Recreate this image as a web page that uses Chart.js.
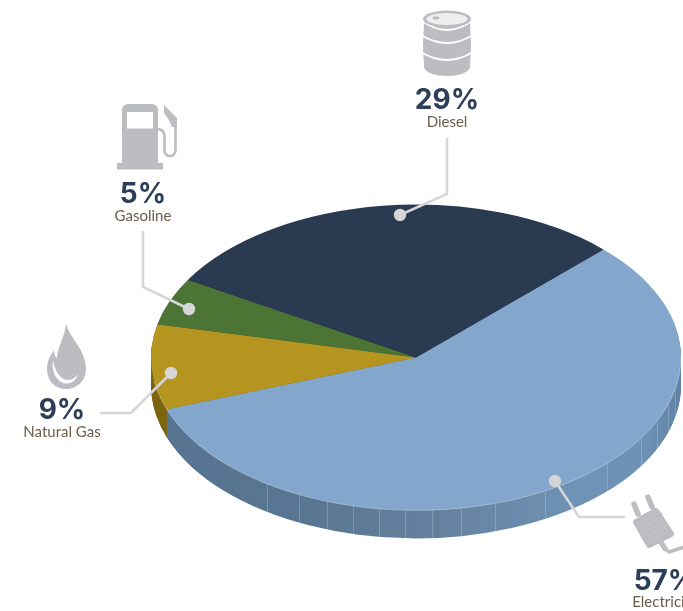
<!DOCTYPE html>
<html>
<head>
<meta charset="utf-8">
<style>html,body{margin:0;padding:0;background:#fff;overflow:hidden}canvas{display:block}</style>
<script src="https://cdn.jsdelivr.net/npm/chart.js@4/dist/chart.umd.js"></script>
</head>
<body>
<canvas id="c" width="683" height="611"></canvas>
<script>
const categories = ['Electricity', 'Natural Gas', 'Gasoline', 'Diesel'];
const shares = [57, 9, 5, 29];
const topColors = ['#82a6cc', '#b69420', '#4c7434', '#2a3a50'];
const wallColors = [null, '#7d6510', '#3a5a28', '#1f2c3e'];

const TILT = 0.577, DEPTH = 28, RADIUS = 265;
const facetX = [267, 299, 327, 353, 379, 405, 432, 461, 495, 545, 607, 641, 657, 668, 675];

const callouts = [
  {i: 3, pct: [447, 108.5], name: [447, 122], path: [[447,138],[447,194],[400,215]]},
  {i: 2, pct: [143, 203],   name: [143, 216], path: [[143,231],[143,287],[189,309]]},
  {i: 1, pct: [62, 419],    name: [62, 432],  path: [[100,413],[131,413],[171,373]]},
  {i: 0, pct: [665, 590],   name: [665, 602], path: [[625,517],[579,517],[555,481]]}
];

const GREY = '#bcbdc0';
function drawBarrel(c) {
  c.fillStyle = GREY;
  c.beginPath();
  c.moveTo(424, 20);
  c.bezierCurveTo(424, 30, 423, 38, 423, 46);
  c.bezierCurveTo(423, 54, 424, 60, 424, 67);
  c.bezierCurveTo(426, 79, 468, 79, 470, 67);
  c.bezierCurveTo(470, 60, 471, 54, 471, 46);
  c.bezierCurveTo(471, 38, 470, 30, 470, 20);
  c.closePath(); c.fill();
  c.strokeStyle = '#fff'; c.lineWidth = 1.8;
  [[20, 30], [35, 43], [52, 60]].forEach(function (r) {
    c.beginPath();
    c.moveTo(421, r[0]);
    c.quadraticCurveTo(447, r[1] + (r[1] - r[0]), 473, r[0]);
    c.stroke();
  });
  c.fillStyle = GREY;
  c.beginPath(); c.ellipse(447, 19, 24, 8.5, 0, 0, Math.PI * 2); c.fill();
  c.fillStyle = '#eeeeef';
  c.beginPath(); c.ellipse(447, 19, 20.5, 6, 0, 0, Math.PI * 2); c.fill();
  c.fillStyle = GREY;
  c.beginPath(); c.ellipse(436, 18, 3.5, 1.8, 0, 0, Math.PI * 2); c.fill();
}
function drawPump(c) {
  c.fillStyle = GREY;
  c.beginPath(); c.roundRect(122, 104, 36, 62, [6, 6, 0, 0]); c.fill();
  c.fillRect(117, 163, 46, 6.5);
  c.fillStyle = '#fff';
  c.fillRect(127, 112, 26, 16.5);
  c.strokeStyle = GREY; c.lineWidth = 2.6; c.lineCap = 'butt';
  c.beginPath();
  c.moveTo(157, 129);
  c.quadraticCurveTo(164.5, 129, 164.5, 137);
  c.lineTo(164.5, 150);
  c.bezierCurveTo(164.5, 158, 175.5, 158, 175.5, 150);
  c.lineTo(175.5, 122);
  c.stroke();
  c.fillStyle = GREY;
  c.beginPath();
  c.moveTo(164, 105); c.lineTo(177, 118); c.lineTo(177, 127);
  c.lineTo(172, 127); c.lineTo(169, 120); c.lineTo(164, 113);
  c.closePath(); c.fill();
}
function drawFlame(c) {
  c.fillStyle = GREY;
  c.beginPath();
  c.moveTo(66, 323);
  c.bezierCurveTo(68, 336, 86, 349, 86, 369);
  c.bezierCurveTo(86, 381, 77, 389, 66, 389);
  c.bezierCurveTo(55, 389, 47, 381, 47, 369);
  c.bezierCurveTo(47, 358, 52, 354, 54, 350);
  c.bezierCurveTo(54, 354, 55, 357, 57, 358);
  c.bezierCurveTo(57, 347, 65, 338, 66, 323);
  c.closePath(); c.fill();
  c.fillStyle = '#fff';
  c.beginPath();
  c.moveTo(53, 360);
  c.bezierCurveTo(51, 373, 58, 383, 66, 383.5);
  c.bezierCurveTo(72, 384, 76, 380, 78, 374);
  c.bezierCurveTo(75, 378, 72, 380, 68, 380);
  c.bezierCurveTo(64, 380, 62, 378, 60, 376);
  c.bezierCurveTo(56, 372, 54, 366, 53, 360);
  c.closePath(); c.fill();
}
function drawPlug(c) {
  c.strokeStyle = GREY; c.lineCap = 'round'; c.lineWidth = 5.5;
  c.beginPath(); c.moveTo(634, 504); c.lineTo(638, 514);
  c.moveTo(648, 497); c.lineTo(652, 507); c.stroke();
  c.lineCap = 'butt';
  c.fillStyle = GREY; c.lineJoin = 'round'; c.lineWidth = 6;
  c.beginPath();
  c.moveTo(636, 522); c.lineTo(656, 511); c.lineTo(671, 534); c.lineTo(649, 545);
  c.closePath(); c.fill(); c.stroke();
  c.lineWidth = 5;
  c.beginPath(); c.moveTo(660, 541); c.lineTo(666, 550); c.stroke();
  c.lineWidth = 3.6;
  c.beginPath(); c.moveTo(662, 546); c.lineTo(669, 552); c.lineTo(684, 547); c.stroke();
  c.strokeStyle = '#c8c8ca'; c.lineWidth = 0.8;
  c.beginPath();
  c.moveTo(645, 520); c.lineTo(661, 512);
  c.moveTo(661, 512); c.quadraticCurveTo(664, 515, 661, 517);
  c.lineTo(644, 526); c.quadraticCurveTo(642, 529, 646, 531);
  c.lineTo(664, 521); c.quadraticCurveTo(668, 524, 665, 527);
  c.lineTo(648, 536); c.quadraticCurveTo(648, 540, 652, 540);
  c.lineTo(667, 532);
  c.stroke();
  c.lineJoin = 'miter';
}

const wallPlugin = {
  id: 'wall',
  beforeDatasetDraw(chart) {
    const c = chart.ctx;
    const arcs = chart.getDatasetMeta(0).data;
    const ox = arcs[0].x, oy = arcs[0].y;
    const grad = c.createLinearGradient(ox - RADIUS, 0, ox + RADIUS, 0);
    grad.addColorStop(0, '#567491');
    grad.addColorStop(0.3, '#587692');
    grad.addColorStop(0.55, '#65819f');
    grad.addColorStop(0.8, '#6f93b5');
    grad.addColorStop(0.93, '#6e92b3');
    grad.addColorStop(1, '#5d82a4');
    const order = [1, 2, 3, 0];
    for (let d = DEPTH; d >= 1; d--) {
      order.forEach(function (i) {
        const a = arcs[i], saved = a.options;
        a.options = Object.assign({}, saved, {backgroundColor: i === 0 ? grad : wallColors[i]});
        c.save();
        c.translate(0, d);
        c.translate(ox, oy); c.scale(1, TILT); c.translate(-ox, -oy);
        a.draw(c);
        c.restore();
        a.options = saved;
      });
    }
    c.save();
    c.strokeStyle = 'rgba(255,255,255,0.2)';
    c.lineWidth = 1;
    facetX.forEach(function (x) {
      const dx = x - ox;
      const y = oy + TILT * Math.sqrt(RADIUS * RADIUS - dx * dx);
      const s = Math.round(x) + 0.5;
      c.beginPath(); c.moveTo(s, y); c.lineTo(s, y + DEPTH); c.stroke();
    });
    c.restore();
    c.save();
    c.translate(ox, oy); c.scale(1, TILT); c.translate(-ox, -oy);
  },
  afterDatasetDraw(chart) {
    const c = chart.ctx;
    c.restore();
    const a = chart.getDatasetMeta(0).data[0];
    c.save();
    c.strokeStyle = 'rgba(255,255,255,0.4)';
    c.lineWidth = 0.8;
    c.beginPath();
    c.ellipse(a.x, a.y, RADIUS, RADIUS * TILT, 0, 0, Math.PI * 0.95);
    c.stroke();
    c.restore();
  },
  afterDraw(chart) {
    const c = chart.ctx;
    c.save();
    drawBarrel(c); drawPump(c); drawFlame(c); drawPlug(c);
    c.strokeStyle = '#d6d6d8'; c.lineWidth = 2.6; c.lineJoin = 'miter'; c.lineCap = 'butt';
    callouts.forEach(function (o) {
      c.beginPath();
      o.path.forEach(function (p, k) { k ? c.lineTo(p[0], p[1]) : c.moveTo(p[0], p[1]); });
      c.stroke();
      c.fillStyle = '#d6d6d8';
      c.beginPath(); c.arc(o.path[2][0], o.path[2][1], 6.2, 0, Math.PI * 2); c.fill();
    });
    c.textAlign = 'center';
    callouts.forEach(function (o) {
      c.textBaseline = 'alphabetic';
      c.fillStyle = '#2d3f58';
      c.font = '700 28px Inter';
      c.fillText(shares[o.i] + '%', o.pct[0], o.pct[1]);
      c.fillStyle = '#6d5c4a';
      c.font = '15px Lato';
      c.textBaseline = 'middle';
      c.fillText(categories[o.i], o.name[0], o.name[1]);
    });
    c.restore();
  }
};

new Chart(document.getElementById('c'), {
  type: 'pie',
  data: {
    labels: categories,
    datasets: [{data: shares, backgroundColor: topColors, borderWidth: 0, clip: false}]
  },
  options: {
    responsive: false,
    animation: false,
    rotation: 45,
    radius: RADIUS,
    layout: {padding: {left: 149, top: 104, right: 0, bottom: 0}},
    plugins: {legend: {display: false}, tooltip: {enabled: false}}
  },
  plugins: [wallPlugin]
});
</script>
</body>
</html>
